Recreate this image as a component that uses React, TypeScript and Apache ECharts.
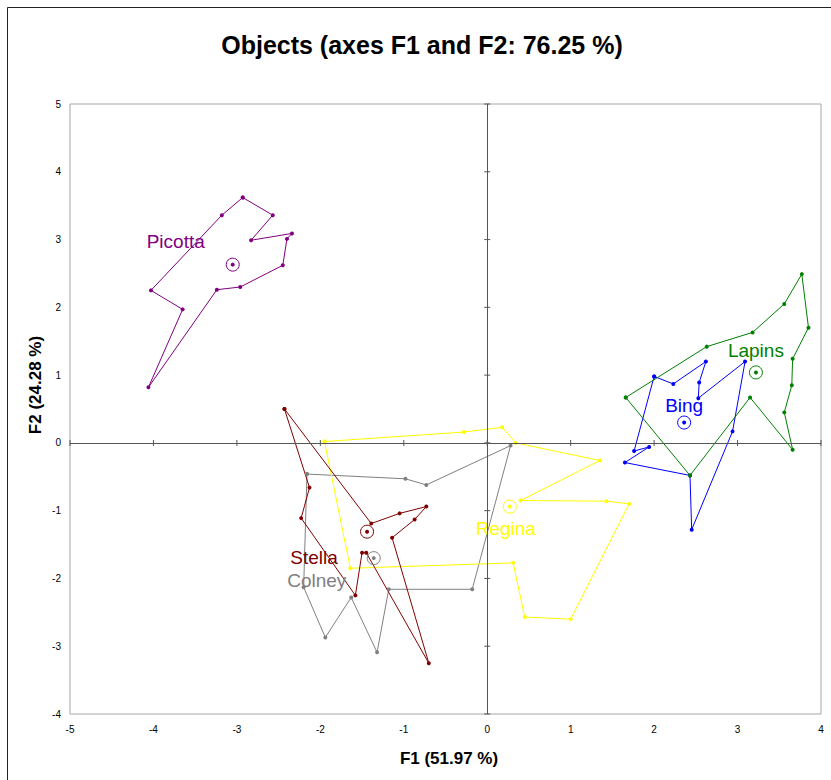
import React, { useEffect, useRef } from "react";
import * as echarts from "echarts";

// Observation coordinates on the first two factors (F1, F2), listed in the
// order each cultivar's outline is traced.
const picottaPoints = [
  [-2.93, 3.62], [-2.57, 3.36], [-2.83, 2.99], [-2.34, 3.09], [-2.40, 3.01], [-2.45, 2.62],
  [-2.96, 2.30], [-3.24, 2.26], [-4.06, 0.82], [-3.65, 1.97], [-4.03, 2.25], [-3.18, 3.36],
];
const stellaPoints = [
  [-2.43, 0.50], [-1.39, -1.19], [-1.05, -1.04], [-0.73, -0.94], [-0.87, -1.13], [-1.14, -1.40],
  [-0.70, -3.25], [-1.45, -1.62], [-1.50, -1.62], [-1.58, -2.25], [-2.23, -1.11], [-2.13, -0.66],
];
const colneyPoints = [
  [-2.16, -0.46], [-0.98, -0.53], [-0.73, -0.62], [0.28, -0.04], [-0.18, -2.16],
  [-1.18, -2.16], [-1.32, -3.09], [-1.63, -2.28], [-1.94, -2.87], [-2.20, -2.13],
];
const reginaPoints = [
  [-1.95, 0.02], [-0.28, 0.16], [0.18, 0.23], [0.34, 0.0], [1.35, -0.26], [0.40, -0.85],
  [1.43, -0.86], [1.70, -0.90], [1.00, -2.60], [0.45, -2.57], [0.31, -1.77], [-1.64, -1.85],
];
const bingPoints = [
  [2.00, 0.98], [2.23, 0.87], [2.62, 1.20], [2.54, 0.89], [2.53, 0.66], [3.09, 1.20],
  [2.94, 0.17], [2.45, -1.28], [2.43, -0.48], [1.65, -0.29], [1.94, -0.06], [1.76, -0.12],
];
const lapinsPoints = [
  [1.66, 0.67], [2.63, 1.42], [3.18, 1.63], [3.56, 2.05], [3.77, 2.49], [3.85, 1.70],
  [3.66, 1.24], [3.65, 0.85], [3.56, 0.45], [3.66, -0.10], [3.15, 0.67], [2.43, -0.48],
];

// Centroid of each cultivar
const centroids: Record<string, number[]> = {
  Picotta: [-3.05, 2.63],
  Stella: [-1.44, -1.31],
  Colney: [-1.36, -1.70],
  Regina: [0.27, -0.94],
  Bing: [2.36, 0.30],
  Lapins: [3.22, 1.04],
};

// Axis tick values
const xTicks = [-5, -4, -3, -2, -1, 0, 1, 2, 3, 4];
const yTicks = [-4, -3, -2, -1, 0, 1, 2, 3, 4, 5];

const TITLE = "Objects (axes F1 and F2: 76.25 %)";
const X_NAME = "F1 (51.97 %)";
const Y_NAME = "F2 (24.28 %)";

type Group = {
  name: string;
  color: string;
  points: number[][];
  labelOffset: number[];
};

// Drawing order: later groups sit on top
const groups: Group[] = [
  { name: "Picotta", color: "#800080", points: picottaPoints, labelOffset: [-57, -23] },
  { name: "Colney", color: "#808080", points: colneyPoints, labelOffset: [-57, 22] },
  { name: "Regina", color: "#FFFF00", points: reginaPoints, labelOffset: [-4, 22] },
  { name: "Stella", color: "#800000", points: stellaPoints, labelOffset: [-53, 26] },
  { name: "Bing", color: "#0000FF", points: bingPoints, labelOffset: [0, -17] },
  { name: "Lapins", color: "#008000", points: lapinsPoints, labelOffset: [0, -22] },
];

const FONT = "'Liberation Sans', Arial, sans-serif";
const AXIS_COLOR = "#555555";

export default function App() {
  const ref = useRef<HTMLDivElement>(null);

  useEffect(() => {
    if (!ref.current) return;
    const chart = echarts.init(ref.current, null, { renderer: "svg" });

    const series: any[] = [];

    // Axes through the origin
    series.push({
      type: "line",
      data: [],
      silent: true,
      markLine: {
        silent: true,
        symbol: "none",
        label: { show: false },
        lineStyle: { color: AXIS_COLOR, width: 1, type: "solid" },
        data: [{ xAxis: 0 }, { yAxis: 0 }],
      },
    });
    // Tick marks crossing the origin axes
    series.push({
      type: "scatter",
      silent: true,
      symbol: "rect",
      symbolSize: [1, 6],
      itemStyle: { color: AXIS_COLOR, opacity: 1 },
      data: xTicks.map((v) => [v, 0]),
    });
    series.push({
      type: "scatter",
      silent: true,
      symbol: "rect",
      symbolSize: [6, 1],
      itemStyle: { color: AXIS_COLOR, opacity: 1 },
      data: yTicks.map((v) => [0, v]),
    });

    groups.forEach((g) => {
      // Outline through the observations
      series.push({
        name: g.name,
        type: "line",
        data: [...g.points, g.points[0]],
        symbol: "circle",
        symbolSize: 4,
        showSymbol: true,
        lineStyle: { color: g.color, width: 1 },
        itemStyle: { color: g.color, opacity: 1 },
        z: 3,
      });
      // Centroid: ring, dot and name
      series.push({
        type: "scatter",
        data: [centroids[g.name]],
        symbol: "circle",
        symbolSize: 13,
        itemStyle: {
          color: "rgba(0,0,0,0)",
          borderColor: g.color,
          borderWidth: 1,
          opacity: 1,
        },
        label: {
          show: true,
          formatter: g.name,
          position: "inside",
          offset: g.labelOffset,
          color: g.color,
          opacity: 1,
          textBorderWidth: 0,
          textBorderColor: "transparent",
          fontSize: 19,
          fontFamily: FONT,
        },
        z: 4,
      });
      series.push({
        type: "scatter",
        data: [centroids[g.name]],
        symbol: "circle",
        symbolSize: 4,
        itemStyle: { color: g.color, opacity: 1 },
        z: 4,
      });
    });

    chart.setOption({
      animation: false,
      backgroundColor: "#ffffff",
      grid: {
        left: 70,
        top: 104,
        right: 10,
        bottom: 66,
        show: true,
        borderColor: "#a6a6a6",
        borderWidth: 1,
        backgroundColor: "#ffffff",
      },
      xAxis: {
        type: "value",
        min: -5,
        max: 4,
        interval: 1,
        axisLine: { show: false },
        axisTick: { show: false },
        splitLine: { show: false },
        axisLabel: { color: "#000", fontSize: 10, margin: 10, fontFamily: FONT },
      },
      yAxis: {
        type: "value",
        min: -4,
        max: 5,
        interval: 1,
        axisLine: { show: false },
        axisTick: { show: false },
        splitLine: { show: false },
        axisLabel: { color: "#000", fontSize: 10, margin: 9, fontFamily: FONT },
      },
      graphic: [
        {
          type: "rect",
          silent: true,
          shape: { x: 7.5, y: 7.5, width: 840, height: 800 },
          style: { fill: "none", stroke: "#222", lineWidth: 1 },
          z: 100,
        },
        {
          type: "text",
          x: 422,
          y: 45,
          style: {
            text: TITLE,
            font: `bold 25px ${FONT}`,
            fill: "#000",
            textAlign: "center",
            textVerticalAlign: "middle",
          },
        },
        {
          type: "text",
          x: 449,
          y: 758,
          style: {
            text: X_NAME,
            font: `bold 17px ${FONT}`,
            fill: "#000",
            textAlign: "center",
            textVerticalAlign: "middle",
          },
        },
        {
          type: "text",
          x: 35,
          y: 385,
          rotation: Math.PI / 2,
          style: {
            text: Y_NAME,
            font: `bold 17px ${FONT}`,
            fill: "#000",
            textAlign: "center",
            textVerticalAlign: "middle",
          },
        },
      ],
      series,
    });

    return () => chart.dispose();
  }, []);

  return (
    <div
      ref={ref}
      style={{ position: "fixed", left: 0, top: 0, width: 831, height: 780, background: "#fff" }}
    />
  );
}
